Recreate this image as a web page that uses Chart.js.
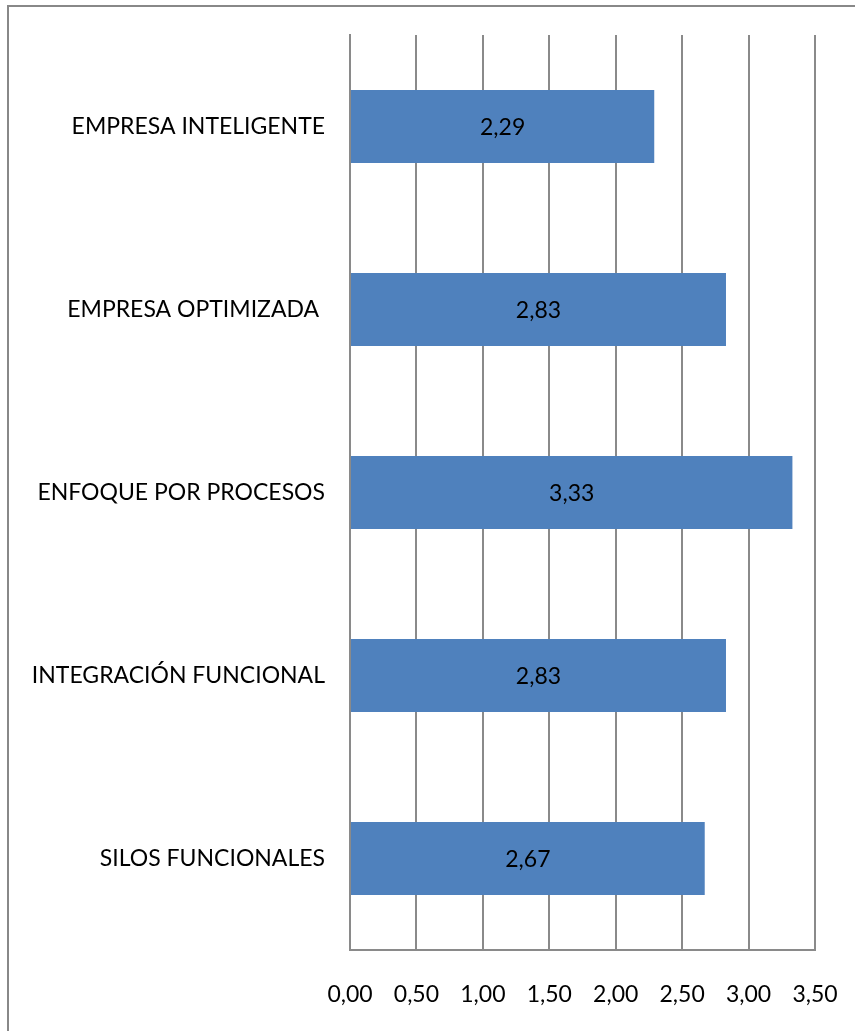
<!DOCTYPE html>
<html>
<head>
<meta charset="utf-8">
<script src="https://cdn.jsdelivr.net/npm/chart.js@4"></script>
<style>
	html, body { margin: 0; padding: 0; overflow: hidden; background: #fff; }
	#frame {
		position: absolute; left: 7px; top: 5px;
		width: 900px; height: 1100px;
		border: 2px solid #888;
	}
	#myBarChart { position: absolute; left: 0; top: 0; }
</style>
</head>
<body>
<div id="frame"></div>
<canvas id="myBarChart" width="855" height="1031"></canvas>
<script>
// categories, top to bottom
const niveles = [
	'EMPRESA INTELIGENTE',
	'EMPRESA OPTIMIZADA ',
	'ENFOQUE POR PROCESOS',
	'INTEGRACIÓN FUNCIONAL',
	'SILOS FUNCIONALES'
];
const puntajes = [2.29, 2.83, 3.33, 2.83, 2.67];
const ejeMin = 0;
const ejeMax = 3.5;
const ejePaso = 0.5;

const fuente = { family: 'Lato, "Open Sans", sans-serif', size: 23 };
const gris = '#8a8a8a';

function coma(v, dec) {
	return Number(v).toFixed(dec).replace('.', ',');
}

//write the value in the middle of each bar
const etiquetasBarras = {
	id: 'etiquetasBarras',
	afterDatasetsDraw(chart) {
		const ctx = chart.ctx;
		ctx.save();
		ctx.font = fuente.size + 'px ' + fuente.family;
		ctx.fillStyle = '#000';
		ctx.textAlign = 'center';
		ctx.textBaseline = 'middle';
		chart.getDatasetMeta(0).data.forEach((bar, i) => {
			ctx.fillText(coma(puntajes[i], 2), (bar.base + bar.x) / 2, bar.y + 1);
		});
		ctx.restore();
	}
};

Chart.defaults.color = '#000';
Chart.defaults.font.family = fuente.family;
Chart.defaults.font.size = fuente.size;

const ctx = document.getElementById('myBarChart').getContext('2d');
new Chart(ctx, {
	type: 'bar',
	data: {
		labels: niveles,
		datasets: [{
			data: puntajes,
			backgroundColor: '#4f81bd',
			borderWidth: 0,
			categoryPercentage: 1,
			barPercentage: 0.4
		}]
	},
	options: {
		indexAxis: 'y',
		responsive: false,
		animation: false,
		layout: { padding: { left: 0, right: 40, top: 35, bottom: 0 } },
		plugins: {
			legend: { display: false },
			tooltip: { enabled: false }
		},
		scales: {
			x: {
				min: ejeMin,
				max: ejeMax,
				ticks: {
					stepSize: ejePaso,
					padding: 31,
					callback: v => coma(v, 2)
				},
				grid: { color: gris, lineWidth: 2, drawTicks: false },
				border: { display: true, color: gris, width: 2 },
				afterFit: s => {
					s.height = 81;
					s.paddingLeft = 0;
					s.paddingRight = 0;
				}
			},
			y: {
				ticks: { padding: 25 },
				grid: { display: false, drawTicks: false },
				border: { display: true, color: gris, width: 2 },
				afterFit: s => {
					s.width = 350;
					s.paddingTop = 0;
					s.paddingBottom = 0;
				}
			}
		}
	},
	plugins: [etiquetasBarras]
});
</script>
</body>
</html>
